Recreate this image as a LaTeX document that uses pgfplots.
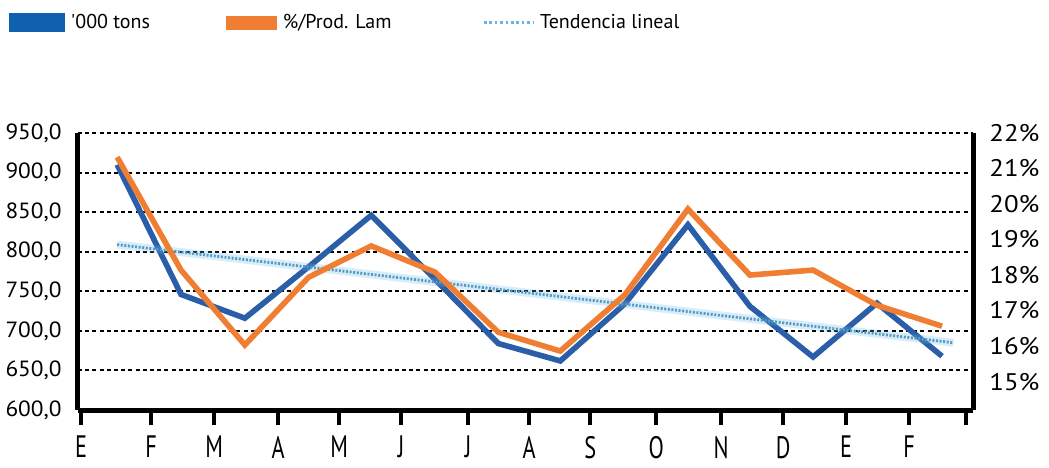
\documentclass[border=0pt]{standalone}
\usepackage{pgfplots}
\pgfplotsset{compat=1.18}
\usepackage{fontspec}
\setmainfont{PT Sans}
\newfontfamily\ylfont[FakeStretch=1.06]{PT Sans}
\newfontfamily\yrfont[FakeStretch=1.12]{PT Sans}
\newfontfamily\xfont[FakeStretch=0.72]{PT Sans}

\definecolor{tons}{RGB}{42,94,168}
\definecolor{tonsleg}{RGB}{16,96,176}
\definecolor{prod}{RGB}{240,126,50}
\definecolor{trend}{RGB}{100,182,230}

% blue series, '000 tons (left axis)
\pgfplotstableread{
x     y
0.57  910
1.58  746
2.59  716
3.60  781
4.59  846
5.60  765
6.60  684
7.58  662
8.60  734
9.60  834
10.58 731
11.58 667
12.59 735
13.62 668
}\tonstab
% orange series, % of laminated production (right axis)
\pgfplotstableread{
x     y
0.57  21.32
1.58  18.14
2.59  16.03
3.60  17.94
4.59  18.82
5.60  18.08
6.60  16.39
7.58  15.86
8.60  17.44
9.60  19.86
10.58 18.0
11.58 18.14
12.59 17.15
13.62 16.56
}\prodtab

\pgfplotsset{
  base/.style={
    width=447.5pt, height=138.5pt, scale only axis,
    xmin=-0.05, xmax=14.11,
    /pgf/number format/assume math mode=true,
    axis line style={line width=2.5pt, black, -},
    tick align=outside,
    major tick length=7.5pt,
  },
}

\begin{document}
\begin{tikzpicture}
\useasboundingbox (-39pt,-28.5pt) rectangle (485.5pt,205pt);
\begin{axis}[base,
    axis x line*=bottom, axis y line*=left,
    ymin=600, ymax=950, ytick={600,650,...,950},
    /pgf/number format/fixed, /pgf/number format/fixed zerofill,
    /pgf/number format/precision=1, /pgf/number format/use comma,
    /pgf/number format/1000 sep={},
    y tick style={draw=none},
    yticklabel style={font=\ylfont\fontsize{11}{13}\selectfont, inner sep=0pt, xshift=-0.5pt},
    xtick={0,1.108,2.104,3.117,4.082,5.063,6.123,7.089,8.054,9.098,10.127,11.108,12.104,13.101,14},
    xticklabels={E,F,M,A,M,J,J,A,S,O,N,D,E,F,{}},
    x tick style={line width=2.2pt, black},
    xticklabel style={font=\xfont\fontsize{15.5}{17}\selectfont, yshift=-2pt},
    ymajorgrids,
    grid style={black, line width=1pt, dash pattern=on 2pt off 1.6pt},
    legend columns=3,
    legend style={at={(0,1)}, anchor=west, xshift=-34.5pt, yshift=55.25pt,
      draw=none, fill=none, inner sep=0pt,
      nodes={inner sep=0pt},
      font=\fontsize{10}{12}\selectfont,
      /tikz/every odd column/.append style={column sep=3pt},
      /tikz/every even column/.append style={column sep=33pt}},
    legend cell align=left,
  ]
  \addplot[tons, line width=2.8pt, line join=miter,
    legend image code/.code={\fill[tonsleg] (0pt,-3.25pt) rectangle (25pt,3.25pt);}]
    table[x=x,y=y]{\tonstab};
  \addlegendentry{\makebox[44.5pt][l]{\textquotesingle 000 tons}}
  \addlegendimage{legend image code/.code={\fill[prod] (0pt,-3.25pt) rectangle (25pt,3.25pt);}}
  \addlegendentry{\makebox[67pt][l]{\%/Prod. Lam}}
  \addlegendimage{legend image code/.code={\draw[trend, line width=1.2pt, dash pattern=on 1.3pt off 1.4pt] (0pt,0pt) -- (24.5pt,0pt);}}
  \addlegendentry{Tendencia lineal}
  % linear trend of the tons series
  \addplot[trend, opacity=0.25, line width=4pt, forget plot] coordinates {(0.57,809) (13.8,685)};
  \addplot[trend!85!black, line width=1.4pt, dash pattern=on 1pt off 0.8pt, forget plot] coordinates {(0.57,809) (13.8,685)};
\end{axis}
\begin{axis}[base,
    axis x line=none, axis y line*=right,
    ymin=14.2, ymax=22, ytick={15,...,22},
    yticklabel={\pgfmathprintnumber{\tick}\%},
    y tick style={draw=none},
    yticklabel style={font=\yrfont\fontsize{12}{14}\selectfont, inner sep=0pt, xshift=0.5pt},
  ]
  \addplot[prod, line width=2.8pt, line join=miter] table[x=x,y=y]{\prodtab};
\end{axis}
\end{tikzpicture}
\end{document}
